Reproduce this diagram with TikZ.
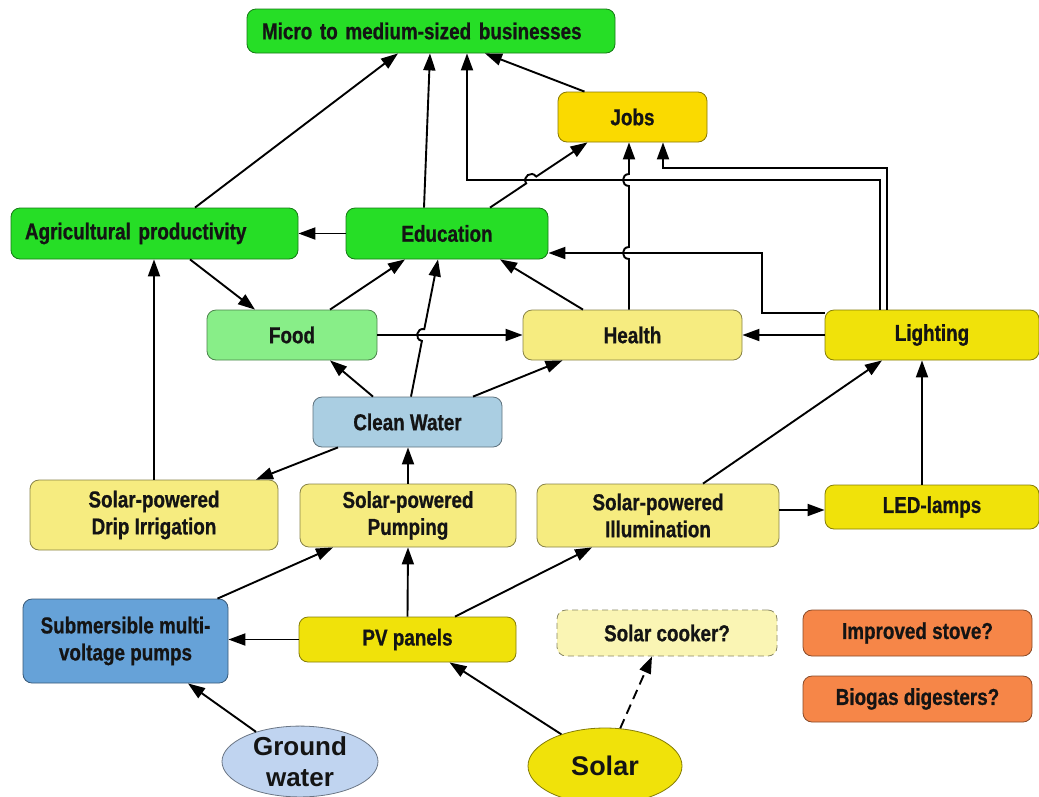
\documentclass[tikz,border=0pt]{standalone}
\usepackage{fontspec}
\setmainfont{Liberation Sans}
\newfontfamily\cond{Liberation Sans}[FakeStretch=0.82,FakeBold=0.8]
\usetikzlibrary{arrows.meta,shapes.geometric}

\definecolor{grn}{RGB}{38,222,38}
\definecolor{food}{RGB}{136,238,136}
\definecolor{gold}{RGB}{250,218,0}
\definecolor{yel}{RGB}{240,226,10}
\definecolor{paleyel}{RGB}{246,236,128}
\definecolor{cook}{RGB}{250,245,180}
\definecolor{water}{RGB}{170,206,226}
\definecolor{pump}{RGB}{102,162,216}
\definecolor{gwater}{RGB}{192,212,240}
\definecolor{orng}{RGB}{246,134,72}
\definecolor{ink}{RGB}{20,20,20}

\tikzset{
  box/.style={draw=#1!55!black, fill=#1, rounded corners=9pt, line width=0.8pt,
    font=\cond\bfseries\fontsize{23}{27}\selectfont, text=ink, align=center,
    inner sep=0pt},
  oval/.style={ellipse, draw=#1!55!black, fill=#1, line width=0.8pt,
    font=\bfseries\fontsize{26}{31}\selectfont, text=ink, align=center, inner sep=0pt},
  arr/.style={line width=1.9pt, draw=black,
    -{Triangle[length=17pt,width=12pt]}},
}

\begin{document}
\begin{tikzpicture}[x=1pt,y=-1pt]
\useasboundingbox (0,0) rectangle (1039,796);
\clip (0,0) rectangle (1039,796);

% ---- nodes ----
\node[box=grn, minimum width=368, minimum height=44, text width=338, inner xsep=15, align=left]
  (micro) at (431,31) {Micro to medium-sized businesses};
\node[box=gold, minimum width=149, minimum height=50] (jobs) at (632.5,117) {Jobs};
\node[box=grn, minimum width=287, minimum height=51, text width=259, inner xsep=14, align=left]
  (agri) at (154.5,233.5) {Agricultural productivity};
\node[box=grn, minimum width=202, minimum height=51] (edu) at (447,233.5) {Education};
\node[box=food, minimum width=170, minimum height=50] (food) at (292,335) {Food};
\node[box=paleyel, minimum width=219, minimum height=50] (health) at (632.5,335) {Health};
\node[box=yel, minimum width=214, minimum height=50] (light) at (932,335) {Lighting};
\node[box=water, minimum width=189, minimum height=50] (water) at (407.5,422) {Clean Water};
\node[box=paleyel, minimum width=248, minimum height=70] (drip) at (154,515)
  {Solar-powered\\Drip Irrigation};
\node[box=paleyel, minimum width=216, minimum height=63] (pump) at (408,515.5)
  {Solar-powered\\Pumping};
\node[box=paleyel, minimum width=242, minimum height=63] (illum) at (658,515.5)
  {Solar-powered\\Illumination};
\node[box=yel, minimum width=214, minimum height=44] (led) at (932,507) {LED-lamps};
\node[box=pump, minimum width=205, minimum height=84] (sub) at (125.5,641)
  {Submersible multi-\\voltage pumps};
\node[box=yel, minimum width=217, minimum height=45] (pv) at (407.5,639.5) {PV panels};
\node[box=cook, dashed, dash pattern=on 6pt off 4pt, minimum width=220, minimum height=46]
  (cooker) at (667,633) {Solar cooker?};
\node[box=orng, minimum width=229, minimum height=46] (stove) at (917.5,633) {Improved stove?};
\node[box=orng, minimum width=229, minimum height=46] (biogas) at (917.5,699) {Biogas digesters?};
\node[oval=gwater, minimum width=156, minimum height=67] (gw) at (300,761.5) {Ground\\water};
\node[oval=yel, minimum width=154, minimum height=76, font=\bfseries\fontsize{27}{31}\selectfont]
  (solar) at (605,766) {Solar};

% ---- bend and hop points ----
\coordinate (lm1) at (880,180);
\coordinate (lm2) at (467,180);
\coordinate (lj1) at (887,168);
\coordinate (lj2) at (663,168);
\coordinate (le1) at (762,313);
\coordinate (le2) at (762,253);
% hop of Education -> Jobs over the y=180 line
\coordinate (ej1) at (526.2,183.4);
\coordinate (ejc1) at (521.7,176.8);
\coordinate (ejc2) at (531.7,170.0);
\coordinate (ej2) at (536.2,176.6);
% hops of Health -> Jobs
\coordinate (hj1) at (629,259);
\coordinate (hj2) at (629,247);
\coordinate (hj3) at (629,186);
\coordinate (hj4) at (629,174);
% hop of Clean Water -> Education over the Food -> Health line
\coordinate (we1) at (421.9,340.9);
\coordinate (wec1) at (414.1,339.4);
\coordinate (wec2) at (416.5,327.6);
\coordinate (we2) at (424.3,329.1);

% ---- connectors ----
\draw[arr] ([xshift=40.5]agri.north) -- ([xshift=-33]micro.south);
\draw[arr] ([xshift=-23]edu.north) -- ([xshift=-1]micro.south);
\draw[arr] ([xshift=43]edu.north) -- (ej1) .. controls (ejc1) and (ejc2) .. (ej2)
  -- ([xshift=-45]jobs.south);
\draw[arr] ([xshift=-48]jobs.north) -- ([xshift=54]micro.south);
\draw[arr] ([xshift=-52]light.north) -- (lm1) -- (lm2) -- (micro.south -| lm2);
\draw[arr] ([xshift=-45]light.north) -- (lj1) -- (lj2) -- (jobs.south -| lj2);
\draw[arr] ([xshift=-3.5]health.north) -- (hj1)
  .. controls ([xshift=-8]hj1) and ([xshift=-8]hj2) .. (hj2) -- (hj3)
  .. controls ([xshift=-8]hj3) and ([xshift=-8]hj4) .. (hj4) -- (jobs.south -| hj4);
\draw[arr] ([yshift=22]light.west) -- (le1) -- (le2) -- (edu.east |- le2);
\draw[arr] ([xshift=-49.5]health.north) -- ([xshift=53]edu.south);
\draw[arr] (light.west) -- (health.east);
\draw[arr] (edu.west) -- (agri.east);
\draw[arr] ([xshift=35.5]agri.south) -- ([xshift=-37]food.north);
\draw[arr] ([xshift=38]food.north) -- ([xshift=-42]edu.south);
\draw[arr] ([xshift=3.5]water.north) -- (we1) .. controls (wec1) and (wec2) .. (we2)
  -- ([xshift=-9]edu.south);
\draw[arr] (food.east) -- (health.west);
\draw[arr] ([xshift=-34.5]water.north) -- ([xshift=38]food.south);
\draw[arr] ([xshift=65.5]water.north) -- ([xshift=-70]health.south);
\draw[arr] ([xshift=-69.5]water.south) -- ([xshift=102]drip.north);
\draw[arr] (drip.north) -- (drip.north |- agri.south);
\draw[arr] (pump.north) -- (pump.north |- water.south);
\draw[arr] ([xshift=45]illum.north) -- ([xshift=-50]light.south);
\draw[arr] ([xshift=-10]led.north) -- ([xshift=-10]light.south);
\draw[arr] ([yshift=5.5]illum.east) -- ([yshift=-3]led.west);
\draw[arr] ([xshift=92]sub.north) -- ([xshift=-75]pump.south);
\draw[arr] (pv.north) -- (pump.south);
\draw[arr] ([xshift=47.5]pv.north) -- ([xshift=-66]illum.south);
\draw[arr] (pv.west) -- (pv.west -| sub.east);
\draw[arr] (gw.146) -- ([xshift=62.5]sub.south);
\draw[arr] (solar.144) -- ([xshift=42]pv.south);
\draw[arr, dashed, dash pattern=on 10pt off 6pt] (solar.68) -- ([xshift=-15]cooker.south);
\end{tikzpicture}
\end{document}
